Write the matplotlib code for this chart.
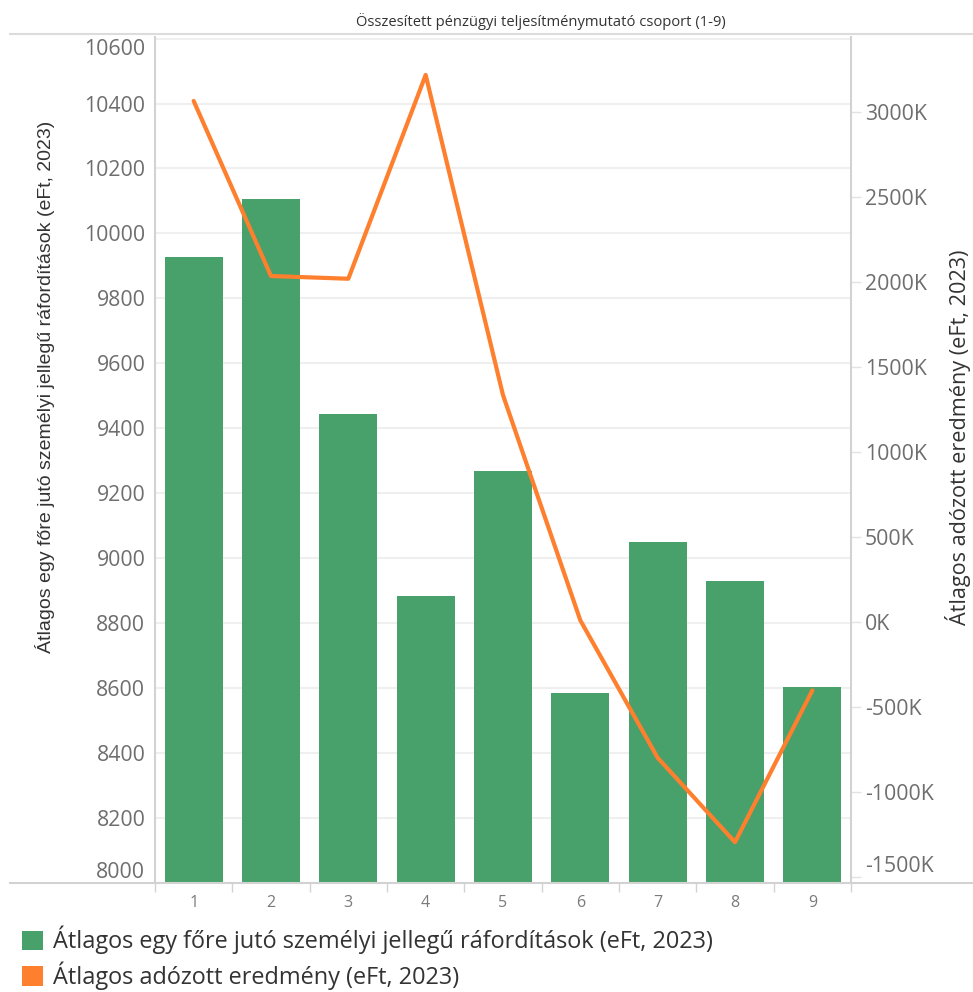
import matplotlib
matplotlib.use('Agg')
import matplotlib.pyplot as plt
from matplotlib.patches import Patch
from matplotlib.lines import Line2D
import matplotlib.transforms as mtransforms
import numpy as np

# ---------------- data ----------------
groups = ['1', '2', '3', '4', '5', '6', '7', '8', '9']
personnel_costs = [9927, 10107, 9444, 8884, 9268, 8585, 9048, 8930, 8602]   # eFt
net_profit_k = [3063, 2034, 2018, 3216, 1334, 10, -798, -1294, -402]       # K eFt
left_ticks = [8000, 8200, 8400, 8600, 8800, 9000, 9200, 9400, 9600, 9800,
              10000, 10200, 10400, 10600]
right_ticks = [-1500, -1000, -500, 0, 500, 1000, 1500, 2000, 2500, 3000]
right_tick_labels = [f'{v}K' for v in right_ticks]

title = 'Összesített pénzügyi teljesítménymutató csoport (1-9)'
left_label = 'Átlagos egy főre jutó személyi jellegű ráfordítások (eFt, 2023)'
right_label = 'Átlagos adózott eredmény (eFt, 2023)'
legend_labels = [left_label, right_label]

GREEN = '#48a06a'
ORANGE = '#fe7f2d'
GRID = '#efefef'
AXIS = '#d2d2d2'
TICK = '#6e6e6e'
DARK = '#333333'

plt.rcParams['font.family'] = ['Open Sans', 'DejaVu Sans']

W, H = 973, 992
fig = plt.figure(figsize=(W / 100, H / 100), dpi=100)
L, R, T, B = 155, 851, 37, 882.5
ax = fig.add_axes([L / W, 1 - B / H, (R - L) / W, (B - T) / H])

x = np.arange(1, len(groups) + 1)
ax.bar(x, personnel_costs, width=0.75, color=GREEN, zorder=2)
ax.set_xlim(0.5, len(groups) + 0.5)
ax.set_ylim(8000, 10605)
ax.set_yticks(left_ticks)
ax.set_yticklabels([str(v) for v in left_ticks])
ax.set_xticks(x)
ax.set_xticklabels(groups)
ax.grid(axis='y', color=GRID, linewidth=1.5, zorder=0)
ax.set_axisbelow(True)
for s in ['top', 'right', 'bottom']:
    ax.spines[s].set_visible(False)
ax.spines['left'].set_color(AXIS)
ax.spines['left'].set_linewidth(1.5)
ax.tick_params(axis='y', length=0, pad=7, labelsize=15.3, labelcolor=TICK)
ax.tick_params(axis='x', length=0, pad=9, labelsize=11.5, labelcolor='#7a7a7a')

# boundary separators under the x axis
trans = mtransforms.blended_transform_factory(ax.transData, ax.transAxes)
bounds = np.arange(0.5, len(groups) + 1.0, 1.0)
ax.vlines(bounds, 0, -9 / (B - T), transform=trans, colors=AXIS,
          linewidth=1, clip_on=False)

ax2 = ax.twinx()
ax2.plot(x, net_profit_k, color=ORANGE, lw=3, solid_joinstyle='round',
         solid_capstyle='round', zorder=3)
ax2.set_ylim(-1531, 3439)
ax2.set_yticks(right_ticks)
ax2.set_yticklabels(right_tick_labels)
for s in ['top', 'left', 'bottom']:
    ax2.spines[s].set_visible(False)
ax2.spines['right'].set_color(AXIS)
ax2.spines['right'].set_linewidth(1.5)
ax2.tick_params(axis='y', length=7, width=1, color='#e2e2e2', pad=3,
                labelsize=15.3, labelcolor=TICK)

# keep edge labels inside the plot area
ax.yaxis.get_major_ticks()[0].label1.set_va('bottom')
ax.yaxis.get_major_ticks()[-1].label1.set_va('top')
ax2.yaxis.get_major_ticks()[0].label2.set_va('bottom')

# full-width horizontal rules
fig.add_artist(Line2D([10 / W, 1], [1 - B / H, 1 - B / H], color=AXIS, lw=1.5,
                      transform=fig.transFigure))
fig.add_artist(Line2D([10 / W, 1], [1 - 34 / H, 1 - 34 / H], color='#dcdcdc',
                      lw=1.5, transform=fig.transFigure))

fig.text(541 / W, 1 - 21 / H, title, ha='center', va='center', fontsize=10.6,
         color=DARK)
fig.text(45 / W, 1 - 387 / H, left_label, rotation=90, ha='center',
         va='center', fontsize=14, family=['Liberation Sans', 'DejaVu Sans'],
         color=DARK)
fig.text(958 / W, 1 - 437 / H, right_label, rotation=90, ha='center',
         va='center', fontsize=15.6, color=DARK)

handles = [Patch(facecolor=GREEN, label=legend_labels[0]),
           Patch(facecolor=ORANGE, label=legend_labels[1])]
fig.legend(handles=handles, loc='upper left',
           bbox_to_anchor=(22 / W, 1 - 926 / H), frameon=False, fontsize=16.9,
           handlelength=0.88, handleheight=0.88, handletextpad=0.42,
           labelspacing=0.3, borderpad=0, borderaxespad=0, labelcolor=DARK)

fig.savefig('out.png', dpi=100)
